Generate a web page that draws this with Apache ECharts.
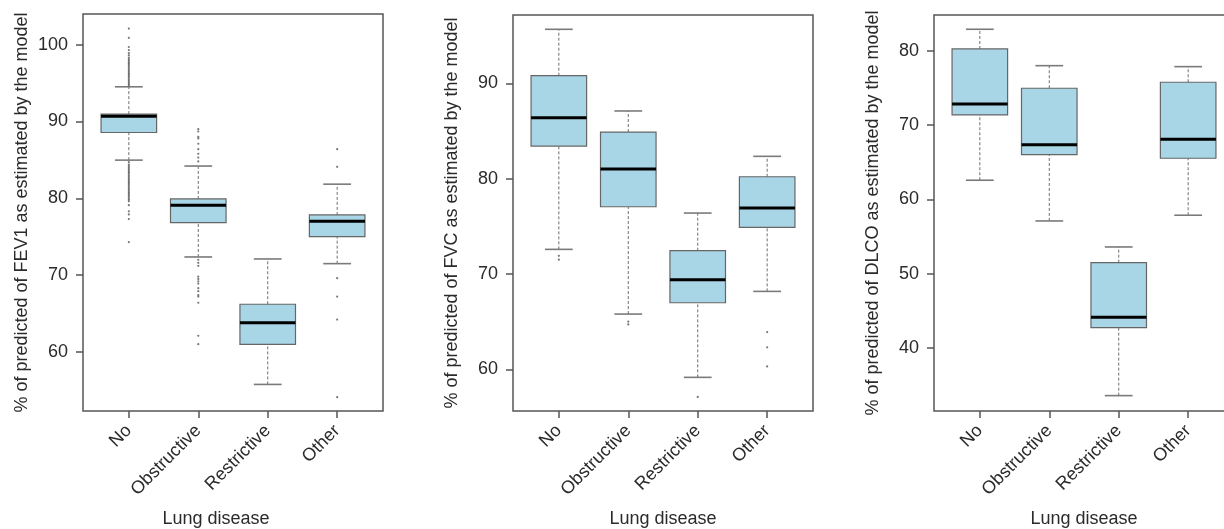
<!DOCTYPE html>
<html>
<head>
<meta charset="utf-8">
<script src="https://cdn.jsdelivr.net/npm/echarts@6/dist/echarts.min.js"></script>
<style>
  html, body { margin: 0; padding: 0; background: #fff; }
  #main { width: 1224px; height: 529px; }
</style>
</head>
<body>
<div id="main"></div>
<script>
var categories = ['No', 'Obstructive', 'Restrictive', 'Other'];
var xTicks = [1, 2, 3, 4];

// [lower whisker, Q1, median, Q3, upper whisker] per category
var fev1Box = [
    [84.97, 88.57, 90.70, 90.96, 94.52],
    [72.36, 76.83, 79.10, 79.92, 84.20],
    [55.76, 60.98, 63.79, 66.20, 72.10],
    [71.49, 75.00, 77.00, 77.84, 81.84]
];
var fvcBox = [
    [72.58, 83.42, 86.39, 90.80, 95.67],
    [65.79, 77.05, 81.00, 84.89, 87.10],
    [59.15, 66.98, 69.39, 72.44, 76.39],
    [68.17, 74.89, 76.92, 80.20, 82.34]
];
var dlcoBox = [
    [62.56, 71.35, 72.83, 80.23, 82.88],
    [57.08, 66.00, 67.35, 74.94, 77.98],
    [33.57, 42.72, 44.12, 51.47, 53.58],
    [57.85, 65.52, 68.07, 75.75, 77.85]
];

// outliers per category
var fev1Outliers = [
    [102.1, 100.9, 99.7, 99.3, 98.9, 98.6, 98.3, 98.1, 97.9, 97.7, 97.5, 97.3, 97.1, 96.9, 96.7, 96.5,
     96.3, 96.1, 95.9, 95.7, 95.5, 95.3, 95.1, 94.9, 94.7,
     84.7, 84.4, 84.2, 84.0, 83.8, 83.6, 83.4, 83.2, 83.0, 82.8, 82.6, 82.4, 82.2, 82.0, 81.8, 81.6,
     81.4, 81.2, 81.0, 80.8, 80.6, 80.4, 80.2, 80.0, 79.8, 79.6, 79.1, 78.3, 77.9, 77.3, 74.3],
    [89.0, 88.7, 88.0, 87.8, 87.1, 86.4, 85.8, 85.3, 84.8,
     72.0, 71.6, 71.2, 69.8, 69.5, 69.2, 68.9, 68.3, 67.9, 67.4, 67.2, 66.4, 62.1, 61.0],
    [],
    [86.4, 84.1, 69.6, 67.2, 64.2, 54.1]
];
var fvcOutliers = [
    [71.9, 71.5],
    [65.0, 64.7],
    [57.1],
    [63.9, 62.3, 60.3]
];
var dlcoOutliers = [[], [], [], []];

var fev1Ticks = [60, 70, 80, 90, 100];
var fvcTicks = [60, 70, 80, 90];
var dlcoTicks = [40, 50, 60, 70, 80];

var font = 'Liberation Sans, Arial, Helvetica, sans-serif';
var textColor = '#2b2b2b';

function renderBox(params, api) {
    var x = api.value(0);
    var lo = api.coord([x, api.value(1)]);
    var q1 = api.coord([x, api.value(2)]);
    var md = api.coord([x, api.value(3)]);
    var q3 = api.coord([x, api.value(4)]);
    var hi = api.coord([x, api.value(5)]);
    var w = api.size([0.8, 0])[0];
    var cw = w / 4;
    var dash = { stroke: '#6f6f6f', lineWidth: 1, lineDash: [3, 2] };
    var cap = { stroke: '#7a7a7a', lineWidth: 1.6 };
    return {
        type: 'group',
        children: [
            { type: 'line', shape: { x1: lo[0], y1: lo[1], x2: q1[0], y2: q1[1] }, style: dash },
            { type: 'line', shape: { x1: q3[0], y1: q3[1], x2: hi[0], y2: hi[1] }, style: dash },
            { type: 'line', shape: { x1: lo[0] - cw, y1: lo[1], x2: lo[0] + cw, y2: lo[1] }, style: cap },
            { type: 'line', shape: { x1: hi[0] - cw, y1: hi[1], x2: hi[0] + cw, y2: hi[1] }, style: cap },
            {
                type: 'rect',
                shape: { x: q3[0] - w / 2, y: q3[1], width: w, height: q1[1] - q3[1] },
                style: { fill: '#a8d6e6', stroke: '#666', lineWidth: 1.2 }
            },
            { type: 'line', shape: { x1: md[0] - w / 2, y1: md[1], x2: md[0] + w / 2, y2: md[1] }, style: { stroke: '#000', lineWidth: 3 } }
        ]
    };
}

var grids = [];
var xAxes = [];
var yAxes = [];
var series = [];

function addPanel(idx, left, top, height, yMin, yMax, ticks, yName, box, outliers, nameShift) {
    grids.push({
        left: left, top: top, width: 300, height: height,
        outerBoundsMode: 'none',
        containLabel: false,
        show: true, borderColor: '#555', borderWidth: 1.5, backgroundColor: 'transparent'
    });
    xAxes.push({
        gridIndex: idx,
        type: 'value',
        min: 0.34,
        max: 4.66,
        axisLine: { show: false },
        splitLine: { show: false },
        axisTick: { show: true, customValues: xTicks, length: 7, lineStyle: { color: '#555', width: 1.5 } },
        axisLabel: {
            customValues: xTicks,
            rotate: 45,
            margin: 17,
            fontSize: 18,
            fontFamily: font,
            color: textColor,
            formatter: function (v) { return categories[Math.round(v) - 1]; }
        },
        name: 'Lung disease',
        nameLocation: 'middle',
        nameGap: 99,
        nameTextStyle: { fontSize: 18, fontFamily: font, color: textColor, padding: [0, nameShift, 0, 0] }
    });
    yAxes.push({
        gridIndex: idx,
        type: 'value',
        min: yMin,
        max: yMax,
        axisLine: { show: false },
        splitLine: { show: false },
        axisTick: { show: true, customValues: ticks, length: 7, lineStyle: { color: '#555', width: 1.5 } },
        axisLabel: { customValues: ticks, margin: 15, fontSize: 18, fontFamily: font, color: textColor },
        name: yName,
        nameLocation: 'middle',
        nameRotate: 90,
        nameGap: 52,
        nameTextStyle: { fontSize: 18, fontFamily: font, color: textColor }
    });
    series.push({
        type: 'custom',
        xAxisIndex: idx,
        yAxisIndex: idx,
        renderItem: renderBox,
        encode: { x: 0, y: [1, 2, 3, 4, 5] },
        data: box.map(function (b, i) { return [xTicks[i]].concat(b); }),
        silent: true
    });
    var pts = [];
    outliers.forEach(function (list, i) {
        list.forEach(function (v) { pts.push([xTicks[i], v]); });
    });
    series.push({
        type: 'scatter',
        xAxisIndex: idx,
        yAxisIndex: idx,
        symbol: 'circle',
        symbolSize: 2.2,
        itemStyle: { color: '#555' },
        data: pts,
        silent: true
    });
}

addPanel(0, 83, 14, 397, 52.3, 104.0, fev1Ticks, '% of predicted of FEV1 as estimated by the model', fev1Box, fev1Outliers, 34);
addPanel(1, 513, 15, 396, 55.62, 97.17, fvcTicks, '% of predicted of FVC as estimated by the model', fvcBox, fvcOutliers, 0);
addPanel(2, 934, 15, 396, 31.5, 84.8, dlcoTicks, '% of predicted of DLCO as estimated by the model', dlcoBox, dlcoOutliers, 0);

var myChart = echarts.init(document.getElementById('main'));
myChart.setOption({
    animation: false,
    backgroundColor: '#fff',
    grid: grids,
    xAxis: xAxes,
    yAxis: yAxes,
    series: series
});
</script>
</body>
</html>
